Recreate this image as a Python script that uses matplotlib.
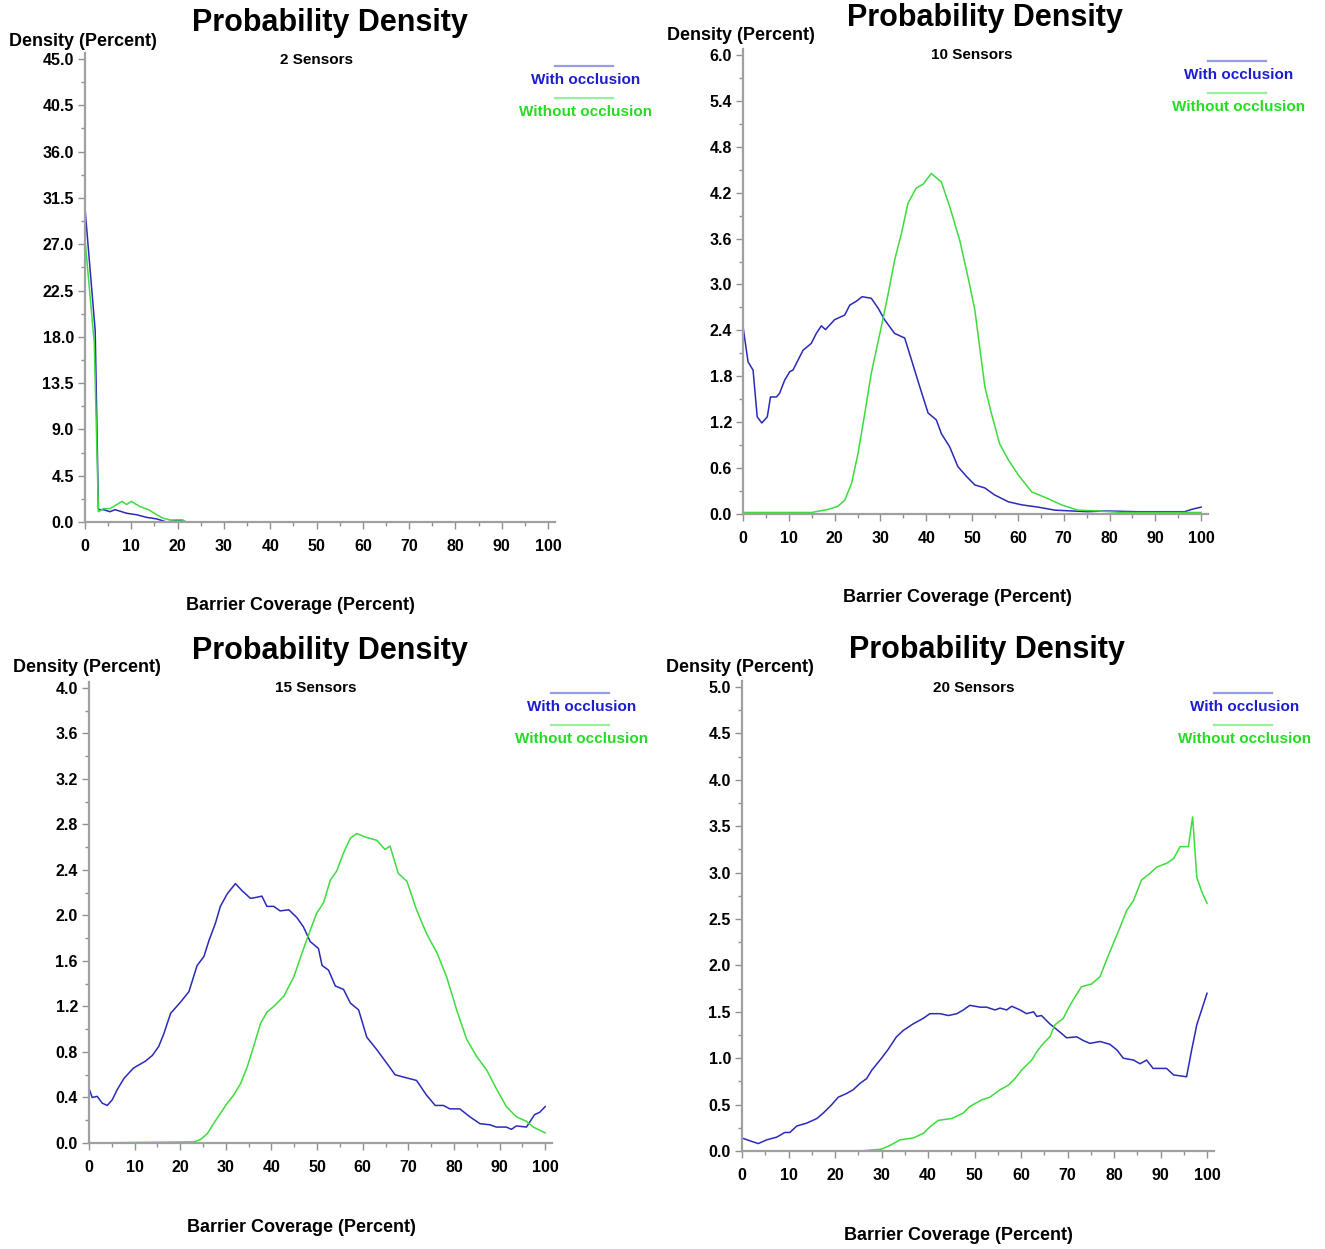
import matplotlib
matplotlib.use("Agg")
import matplotlib.pyplot as plt
from matplotlib.ticker import MultipleLocator, FormatStrFormatter

plt.rcParams['font.family'] = ['Liberation Sans', 'DejaVu Sans']

W, H = 1325, 1249

# ---- data ----
s2_with_x = [0, 2.2, 2.9, 4, 5.4, 6.5, 9, 11.2, 13.3, 15.5, 16.9, 17.6, 19.8, 21.2, 21.6, 100]
s2_with_y = [30.5, 18.6, 1.2, 1.2, 1.0, 1.2, 0.85, 0.7, 0.45, 0.3, 0.1, 0.0, 0.15, 0.15, 0.0, 0.0]
s2_without_x = [0, 2, 2.9, 4, 5.4, 8, 9, 10, 11.9, 13.7, 15.5, 16.9, 18.4, 20.9, 22, 100]
s2_without_y = [27.5, 17.4, 1.0, 1.3, 1.3, 2.0, 1.7, 2.0, 1.5, 1.2, 0.7, 0.36, 0.2, 0.2, 0.0, 0.0]

s10_with_x = [0, 1.1, 2.2, 3.1, 4.1, 5.3, 6.0, 7.3, 8, 9.1, 10.2, 10.9, 12, 13.1, 14.9, 16, 17.1,
              18, 20, 22.2, 23.3, 24.7, 26, 28, 29.5, 30.9, 33.1, 35.3, 36.8, 38.6, 40.4, 42.2,
              43.3, 45.1, 46.9, 48.8, 50.6, 52.8, 54.9, 57.9, 60.8, 64.4, 68.1, 71.7, 75.3,
              78.9, 86.2, 96.4, 97.9, 100]
s10_with_y = [2.45, 1.99, 1.88, 1.27, 1.19, 1.27, 1.53, 1.53, 1.58, 1.75, 1.86, 1.88, 2.01, 2.14,
              2.23, 2.36, 2.46, 2.41, 2.54, 2.60, 2.73, 2.78, 2.84, 2.82, 2.69, 2.54, 2.36, 2.30,
              2.01, 1.66, 1.32, 1.23, 1.05, 0.88, 0.62, 0.49, 0.38, 0.34, 0.25, 0.16, 0.12, 0.09,
              0.05, 0.04, 0.03, 0.04, 0.03, 0.03, 0.06, 0.09]
s10_without_x = [0, 15, 18.6, 20.7, 22.2, 23.7, 25.1, 26.6, 28, 30.2, 31.7, 33.1, 34.6, 36, 37.8,
                 39.3, 41.1, 43.3, 45.1, 47.3, 49.1, 50.6, 52.8, 54.2, 56, 57.9, 60.1, 63, 66.6,
                 69.5, 73.1, 77.5, 82.6, 100]
s10_without_y = [0.02, 0.02, 0.06, 0.10, 0.18, 0.40, 0.79, 1.32, 1.84, 2.45, 2.88, 3.32, 3.67,
                 4.06, 4.26, 4.31, 4.45, 4.34, 4.02, 3.58, 3.10, 2.67, 1.66, 1.32, 0.92, 0.71,
                 0.51, 0.29, 0.20, 0.12, 0.05, 0.04, 0.02, 0.02]

s15_with_x = [0, 0.7, 1.8, 2.9, 4, 5.1, 6.2, 7.7, 9.8, 12.4, 13.9, 15.3, 16.4, 17.9, 20.1, 21.9,
              23.7, 25.2, 26.3, 27.7, 28.8, 30.3, 32.1, 33.5, 35.4, 36.8, 37.9, 39, 40.5, 41.9,
              43.8, 45.6, 47, 48.5, 50.3, 51.1, 52.5, 54, 55.8, 57.3, 59.1, 60.9, 63.1, 65.3,
              67.1, 68.9, 71.8, 74, 75.9, 77.7, 79.1, 81.3, 83.5, 85.7, 87.9, 89.3, 91.5, 92.6,
              93.7, 95.9, 97.7, 98.8, 100]
s15_with_y = [0.48, 0.40, 0.41, 0.35, 0.33, 0.38, 0.47, 0.57, 0.66, 0.72, 0.77, 0.85, 0.96, 1.14,
              1.24, 1.33, 1.56, 1.64, 1.78, 1.93, 2.08, 2.19, 2.28, 2.22, 2.15, 2.16, 2.17, 2.08,
              2.08, 2.04, 2.05, 1.98, 1.90, 1.77, 1.71, 1.56, 1.52, 1.38, 1.35, 1.23, 1.17, 0.93,
              0.82, 0.70, 0.60, 0.58, 0.55, 0.42, 0.33, 0.33, 0.30, 0.30, 0.23, 0.17, 0.16, 0.14,
              0.14, 0.12, 0.15, 0.14, 0.25, 0.27, 0.32]
s15_without_x = [0, 23, 24.4, 25.9, 27.3, 28.8, 30.3, 31.7, 33.2, 34.7, 36.1, 37.6, 39, 40.5, 42.7,
                 44.9, 46.7, 48.5, 49.9, 51.4, 52.9, 54.3, 55.8, 57.3, 58.7, 60.5, 63.1, 64.9, 66,
                 67.8, 69.7, 71.8, 74, 76.3, 78.4, 80.6, 82.8, 85, 87.2, 89.4, 91.5, 93.7, 95.9,
                 97.4, 100]
s15_without_y = [0.0, 0.01, 0.03, 0.08, 0.17, 0.26, 0.35, 0.42, 0.52, 0.67, 0.85, 1.05, 1.15, 1.20,
                 1.29, 1.46, 1.67, 1.87, 2.02, 2.11, 2.31, 2.39, 2.55, 2.68, 2.72, 2.69, 2.66, 2.58,
                 2.61, 2.37, 2.30, 2.05, 1.84, 1.67, 1.46, 1.17, 0.91, 0.76, 0.64, 0.47, 0.32, 0.23,
                 0.19, 0.14, 0.09]

s20_with_x = [0, 1.7, 3.5, 5.3, 7.5, 9.2, 10.3, 11.8, 13.9, 16.1, 17.5, 19.3, 20.7, 22.5, 23.9,
              25.4, 26.8, 27.9, 30, 31.5, 33.2, 34.7, 36.8, 39, 40.4, 42.6, 44.4, 46.2, 47.6, 49,
              51.2, 52.6, 54.4, 55.5, 56.9, 58, 59.8, 61.2, 62.7, 63.4, 64.4, 66.2, 68.4, 69.8,
              72, 73.4, 74.8, 77, 79.1, 80.6, 82, 84.2, 85.6, 87, 88.4, 89.9, 91.3, 92.8, 95.6,
              96.7, 97.8, 100]
s20_with_y = [0.14, 0.11, 0.08, 0.12, 0.15, 0.20, 0.20, 0.27, 0.30, 0.35, 0.41, 0.50, 0.58, 0.62,
              0.66, 0.73, 0.78, 0.87, 1.00, 1.10, 1.23, 1.30, 1.37, 1.43, 1.48, 1.48, 1.46, 1.48,
              1.52, 1.57, 1.55, 1.55, 1.52, 1.54, 1.52, 1.56, 1.52, 1.48, 1.50, 1.45, 1.46, 1.37,
              1.28, 1.22, 1.23, 1.19, 1.16, 1.18, 1.15, 1.09, 1.00, 0.98, 0.94, 0.98, 0.89, 0.89,
              0.89, 0.82, 0.80, 1.09, 1.36, 1.70]
s20_without_x = [0, 25.4, 30, 31.8, 34, 36.8, 39, 40.4, 42.2, 45.1, 47.6, 49, 51.5, 53.3, 55.5,
                 57.3, 58.7, 60.1, 62.3, 63.4, 64.8, 66.2, 67.3, 69.1, 70.2, 71.6, 73, 75.2, 77,
                 78.4, 79.8, 81.3, 82.7, 84.2, 85.9, 87.7, 89.2, 91.3, 92.8, 94.2, 96, 96.9, 97.8,
                 98.9, 100]
s20_without_y = [0.0, 0.0, 0.02, 0.06, 0.12, 0.14, 0.19, 0.26, 0.33, 0.35, 0.41, 0.48, 0.55, 0.58,
                 0.66, 0.71, 0.78, 0.87, 0.98, 1.07, 1.16, 1.23, 1.36, 1.43, 1.54, 1.66, 1.77, 1.80,
                 1.88, 2.06, 2.23, 2.41, 2.59, 2.70, 2.92, 2.99, 3.06, 3.10, 3.15, 3.28, 3.28, 3.60,
                 2.95, 2.79, 2.67]

subtitles = ["2 Sensors", "10 Sensors", "15 Sensors", "20 Sensors"]
y_max = [45.0, 6.0, 4.0, 5.0]
y_step = [4.5, 0.6, 0.4, 0.5]

BLUE = '#2a2ab8'
GREEN = '#3ddc3d'


def px(x, y):
    return x / W, 1 - y / H


def panel(rect, data, ymax, ystep, sub, pos):
    # rect in pixels: left, top, right, bottom
    l, t, r, b = rect
    ax = fig.add_axes([l / W, 1 - b / H, (r - l) / W, (b - t) / H])
    wx, wy, ox, oy = data
    ax.plot(wx, wy, color=BLUE, lw=1.1)
    ax.plot(ox, oy, color=GREEN, lw=1.1)
    ax.set_xlim(0, 101.5)
    ax.set_ylim(0, ymax * 1.013)
    ax.xaxis.set_major_locator(MultipleLocator(10))
    ax.xaxis.set_minor_locator(MultipleLocator(5))
    ax.yaxis.set_major_locator(MultipleLocator(ystep))
    ax.yaxis.set_minor_locator(MultipleLocator(ystep / 2))
    ax.yaxis.set_major_formatter(FormatStrFormatter('%.1f'))
    for s in ['top', 'right']:
        ax.spines[s].set_visible(False)
    for s in ['left', 'bottom']:
        ax.spines[s].set_color('#a0a0a0')
        ax.spines[s].set_linewidth(1.6)
    ax.tick_params(which='major', length=5, width=1, color='#909090',
                   labelsize=11.5, pad=3)
    ax.tick_params(which='minor', length=3, width=1, color='#909090')
    ax.tick_params(axis='x', which='major', pad=7)
    for lab in ax.get_xticklabels() + ax.get_yticklabels():
        lab.set_fontweight('bold')
    ax.set_xticks([v for v in range(0, 101, 10)])
    ax.set_yticks([ystep * i for i in range(int(round(ymax / ystep)) + 1)])

    (tx, ty), (sx, sy), (yx, yy), (xx, xy), (lx, ly) = pos
    fig.text(*px(tx, ty), "Probability Density", fontsize=22, fontweight='bold',
             ha='center', va='center')
    fig.text(*px(sx, sy), sub, fontsize=11, fontweight='bold', ha='center', va='center')
    fig.text(*px(yx, yy), "Density (Percent)", fontsize=13, fontweight='bold',
             ha='center', va='center')
    fig.text(*px(xx, xy), "Barrier Coverage (Percent)", fontsize=13, fontweight='bold',
             ha='center', va='center')
    # legend: short line above each label
    for i, (name, lc, tc) in enumerate([("With occlusion", '#9a9ae6', '#1c1cd0'),
                                        ("Without occlusion", '#9af09a', '#22dd22')]):
        yl = ly + 32 * i
        fig.add_artist(plt.Line2D([(lx - 29) / W, (lx + 29) / W],
                                  [1 - yl / H, 1 - yl / H], color=lc, lw=1.6))
        fig.text(*px(lx + 2, yl + 14), name, fontsize=11, fontweight='bold', color=tc,
                 ha='center', va='center')
    return ax


fig = plt.figure(figsize=(W / 100, H / 100), dpi=100)

panel((85, 53, 555, 522), (s2_with_x, s2_with_y, s2_without_x, s2_without_y),
      y_max[0], y_step[0], subtitles[0],
      [(330, 23), (316, 60), (83, 41), (300, 606), (584, 66)])
panel((743, 49, 1208, 514), (s10_with_x, s10_with_y, s10_without_x, s10_without_y),
      y_max[1], y_step[1], subtitles[1],
      [(985, 18), (972, 55), (741, 35), (957, 597), (1237, 61)])
panel((89, 682, 552, 1143), (s15_with_x, s15_with_y, s15_without_x, s15_without_y),
      y_max[2], y_step[2], subtitles[2],
      [(330, 651), (316, 688), (87, 668), (301, 1227), (580, 693)])
panel((742, 681, 1214, 1151), (s20_with_x, s20_with_y, s20_without_x, s20_without_y),
      y_max[3], y_step[3], subtitles[3],
      [(987, 650), (974, 688), (740, 668), (958, 1236), (1243, 693)])

fig.savefig("out.png", dpi=100)
